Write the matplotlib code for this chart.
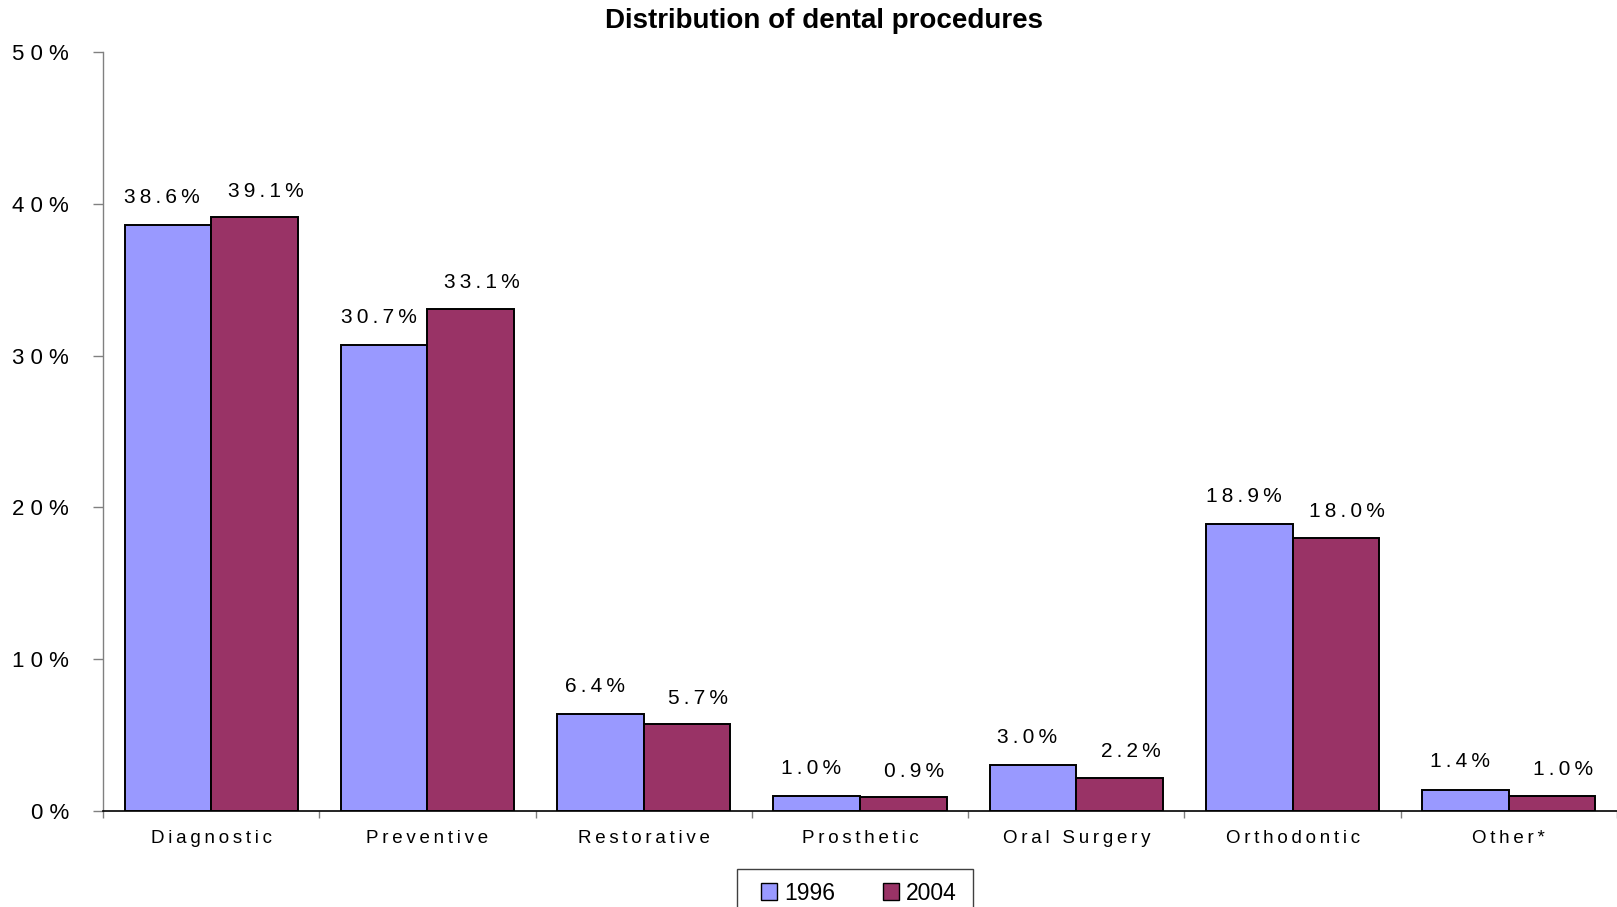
import matplotlib
matplotlib.use("Agg")
import matplotlib.pyplot as plt
from matplotlib.patches import Patch, Rectangle
import numpy as np

plt.rcParams['font.family'] = ['Liberation Sans', 'DejaVu Sans']

categories = ["Diagnostic", "Preventive", "Restorative", "Prosthetic",
              "Oral Surgery", "Orthodontic", "Other*"]
series_names = ["1996", "2004"]
values_1996 = [38.6, 30.7, 6.4, 1.0, 3.0, 18.9, 1.4]
values_2004 = [39.1, 33.1, 5.7, 0.9, 2.2, 18.0, 1.0]
y_ticks = [0, 10, 20, 30, 40, 50]
title = "Distribution of dental procedures"

color_1996 = "#9999FF"
color_2004 = "#993366"

TS = "\u2009"  # thin space used for the wide letter tracking


def tracked(s, sep=TS):
    return sep.join(list(s))


W, H = 1617, 907
fig = plt.figure(figsize=(W / 100, H / 100), dpi=100)
left, right, top, bottom = 103, 1617, 52, 811
ax = fig.add_axes([left / W, 1 - bottom / H, (right - left) / W, (bottom - top) / H])

cat_w = 217.3  # pixel width of one category slot
x = np.arange(len(categories))
bw = 0.4
b1 = ax.bar(x - bw / 2, values_1996, bw, color=color_1996, edgecolor="black",
            linewidth=1.4, zorder=3)
b2 = ax.bar(x + bw / 2, values_2004, bw, color=color_2004, edgecolor="black",
            linewidth=1.4, zorder=3)

ax.set_xlim(-0.5, -0.5 + (right - left) / cat_w)
ax.set_ylim(0, 50)

for bars, vals, dx, dy in ((b1, values_1996, -4, 20), (b2, values_2004, 8, 18.6)):
    for rect, v in zip(bars, vals):
        ax.annotate(tracked(f"{v:.1f}%"),
                    (rect.get_x() + rect.get_width() / 2, v),
                    xytext=(dx, dy), textcoords="offset points",
                    ha="center", va="center", fontsize=15, color="black")

# y axis
ax.set_yticks(y_ticks)
ax.set_yticklabels([tracked(f"{t}%", " ") for t in y_ticks], fontsize=16)
ax.tick_params(axis="y", direction="out", length=7, width=1, color="#808080",
               pad=17.5)

# x axis: ticks at category boundaries, labels centered in slots
ax.set_xticks(np.arange(len(categories) + 1) - 0.5)
ax.set_xticklabels([])
ax.set_xticks(x, minor=True)
ax.set_xticklabels([tracked(c) for c in categories], minor=True, fontsize=13.5)
ax.tick_params(axis="x", which="major", direction="out", length=5, width=1,
               color="#808080")
ax.tick_params(axis="x", which="minor", length=0, pad=14)

for s in ("top", "right"):
    ax.spines[s].set_visible(False)
ax.spines["left"].set_color("#808080")
ax.spines["left"].set_linewidth(1)
ax.spines["bottom"].set_color("black")
ax.spines["bottom"].set_linewidth(1.2)

fig.text(824 / W, 1 - 21 / H, title, ha="center", va="center",
         fontsize=20, fontweight="bold")

# legend entries (frameless) plus a box that runs off the bottom edge
handles = [Patch(facecolor=color_1996, edgecolor="black", linewidth=1),
           Patch(facecolor=color_2004, edgecolor="black", linewidth=1)]
leg = fig.legend(handles, series_names, loc="center left",
                 bbox_to_anchor=(761 / W, 1 - 893 / H), ncol=2,
                 fontsize=16.5, frameon=False,
                 handlelength=0.7, handleheight=0.7, handletextpad=0.3,
                 columnspacing=2.1, borderpad=0, borderaxespad=0)
fig.patches.append(Rectangle((737 / W, -0.02), (973 - 737) / W,
                             (907 - 869) / H + 0.02, transform=fig.transFigure,
                             fill=False, edgecolor="#404040", linewidth=1))

fig.savefig("out.png", dpi=100)
